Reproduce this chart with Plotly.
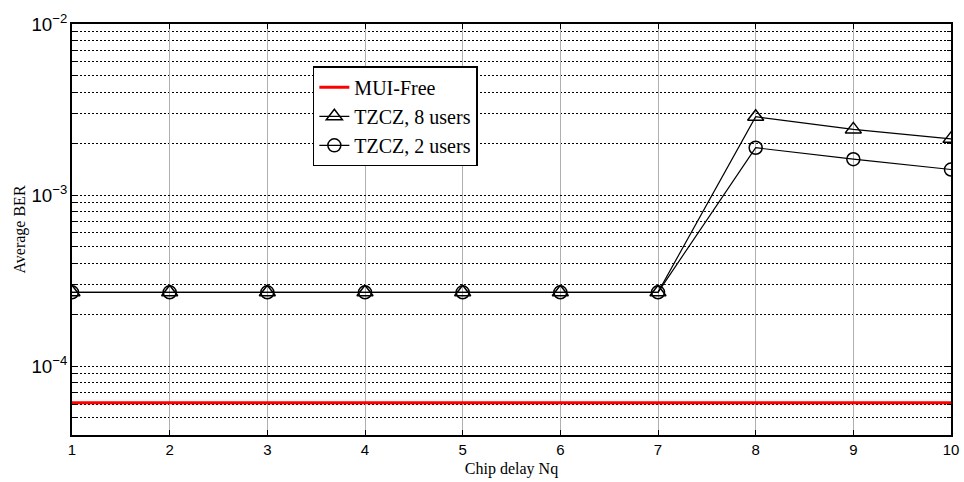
import plotly.graph_objects as go

chip_delay = [1, 2, 3, 4, 5, 6, 7, 8, 9, 10]
mui_free = [6.1e-5] * 10
tzcz_8 = [2.7e-4, 2.7e-4, 2.7e-4, 2.7e-4, 2.7e-4, 2.7e-4, 2.7e-4, 2.87e-3, 2.42e-3, 2.13e-3]
tzcz_2 = [2.7e-4, 2.7e-4, 2.7e-4, 2.7e-4, 2.7e-4, 2.7e-4, 2.7e-4, 1.89e-3, 1.62e-3, 1.41e-3]

fig = go.Figure()
fig.add_trace(go.Scatter(x=chip_delay, y=mui_free, mode="lines", name="MUI-Free",
                         line=dict(color="#ff0000", width=3)))
fig.add_trace(go.Scatter(x=chip_delay, y=tzcz_8, mode="lines+markers", name="TZCZ, 8 users",
                         line=dict(color="black", width=1.2),
                         marker=dict(symbol="triangle-up-open", size=14, color="black",
                                     line=dict(width=1.5))))
fig.add_trace(go.Scatter(x=chip_delay, y=tzcz_2, mode="lines+markers", name="TZCZ, 2 users",
                         line=dict(color="black", width=1.2),
                         marker=dict(symbol="circle-open", size=13, color="black",
                                     line=dict(width=1.5))))

fig.update_layout(
    width=964, height=482,
    margin=dict(l=72, r=13, t=24, b=47),
    paper_bgcolor="white", plot_bgcolor="white",
    showlegend=True,
    legend=dict(x=0.274, y=0.897, xanchor="left", yanchor="top",
                bgcolor="white", bordercolor="black", borderwidth=1.5,
                font=dict(family="Liberation Serif, Times New Roman, serif", size=20, color="black"),
                tracegroupgap=0, itemwidth=30),
)
fig.update_xaxes(
    range=[1, 10], dtick=1, tick0=1, automargin=False,
    showline=True, linecolor="black", linewidth=1.5, mirror="ticks",
    ticks="inside", ticklen=5, tickcolor="black",
    showgrid=True, gridcolor="#b0b0b0", gridwidth=1,
    zeroline=False,
    tickfont=dict(family="Liberation Sans, Arial, sans-serif", size=15, color="black"),
    title=dict(text="Chip delay Nq", standoff=6,
               font=dict(family="Liberation Serif, Times New Roman, serif", size=16, color="black")),
)
fig.update_yaxes(
    type="log", range=[-4.403, -2], dtick=1, automargin=False,
    exponentformat="power",
    showline=True, linecolor="black", linewidth=1.5, mirror="ticks",
    ticks="inside", ticklen=5, tickcolor="black",
    showgrid=True, gridcolor="black", gridwidth=1, griddash="2px,2px",
    minor=dict(ticks="inside", ticklen=4, tickcolor="black", showgrid=True,
               gridcolor="black", gridwidth=1, griddash="2px,2px"),
    zeroline=False,
    tickfont=dict(family="Liberation Sans, Arial, sans-serif", size=15, color="black"),
    title=dict(text="Average BER", standoff=2,
               font=dict(family="Liberation Serif, Times New Roman, serif", size=16, color="black")),
)

fig.write_html("out.html")
